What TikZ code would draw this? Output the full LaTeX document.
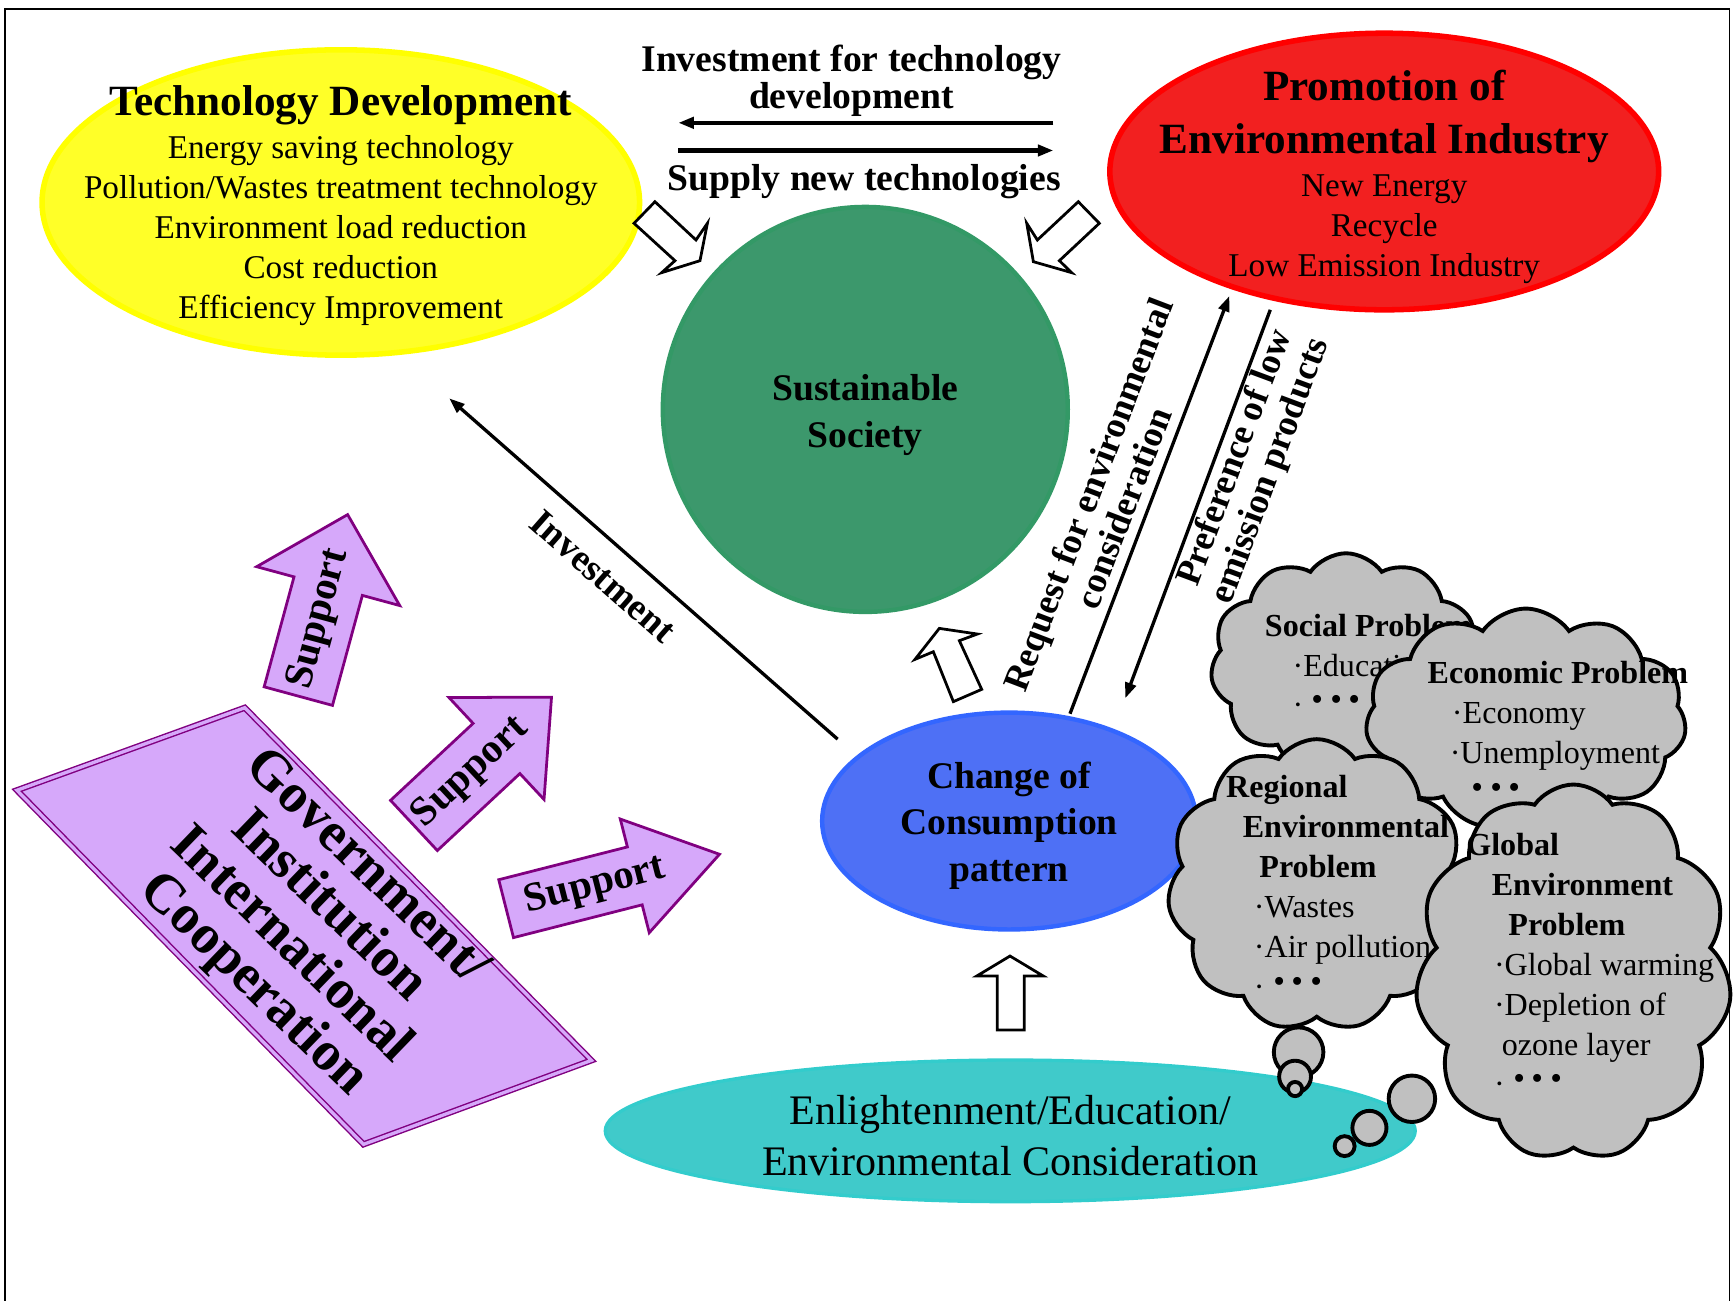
\documentclass[tikz,border=0pt]{standalone}
\usepackage{fontspec}
\setmainfont{Liberation Serif}
\usetikzlibrary{shapes.geometric,shapes.symbols,arrows.meta}
\definecolor{yelfill}{RGB}{255,255,40}
\definecolor{yelline}{RGB}{255,255,0}
\definecolor{redfill}{RGB}{242,32,32}
\definecolor{redline}{RGB}{255,0,0}
\definecolor{grnfill}{RGB}{60,152,108}
\definecolor{grnline}{RGB}{51,153,102}
\definecolor{blufill}{RGB}{78,112,245}
\definecolor{bluline}{RGB}{51,102,255}
\definecolor{cyafill}{RGB}{64,202,202}
\definecolor{cyaline}{RGB}{51,204,204}
\definecolor{purfill}{RGB}{214,168,250}
\definecolor{purline}{RGB}{128,0,128}
\definecolor{cloudgray}{RGB}{192,192,192}
\newcommand{\bigdot}{{\fontsize{44}{36}\selectfont\bfseries ·}}
\newcommand{\dotrow}{·\hspace{6pt}\bigdot\hspace{2pt}\bigdot\hspace{2pt}\bigdot}
\newcommand{\suparrow}[9]{%
  \begin{scope}[shift={(#2,#3)},rotate=#4]
    \draw[suparr] (0,-#7) -- (#5-#6,-#7) -- (#5-#6,-#8) -- (#5,0) -- (#5-#6,#8) -- (#5-#6,#7) -- (0,#7) -- cycle;
    \node[suptxt,rotate=#4] (#1) at (#9,0) {Support};
  \end{scope}}
\begin{document}
\begin{tikzpicture}[x=1pt,y=-1pt,
  blob/.style={ellipse,inner sep=0pt,line width=4pt},
  lbl/.style={font=\fontsize{34}{33}\selectfont\bfseries,inner sep=0pt,align=center},
  body/.style={font=\fontsize{30}{36}\selectfont,inner sep=0pt,align=center},
  flow/.style={line width=3pt,-{Triangle[length=14pt,width=10pt]}},
  openarr/.style={draw=black,fill=white,line width=2.5pt,line join=miter},
  suparr/.style={draw=purline,fill=purfill,line width=2.5pt,line join=miter},
  suptxt/.style={font=\fontsize{37}{37}\selectfont\bfseries,inner sep=0pt},
  cloudy/.style={cloud,cloud puffs=11,cloud puff arc=110,cloud ignores aspect,draw=black,fill=cloudgray,line width=3.5pt,inner sep=0pt},
  bubble/.style={draw=black,fill=cloudgray,line width=3.5pt},
  ctext/.style={font=\fontsize{29}{36}\selectfont,inner sep=0pt,align=left,anchor=west}
]
\useasboundingbox (0,0) rectangle (1568,1175);
\fill[white] (0,0) rectangle (1568,1175);

% main ellipses
\node[blob,fill=yelfill,draw=yelline,line width=5pt,minimum width=540pt,minimum height=276pt] (tech) at (308,183) {};
\node[blob,fill=redfill,draw=redline,line width=5pt,minimum width=496pt,minimum height=250pt] (prom) at (1251,155) {};
\node[circle,inner sep=0pt,fill=grnfill,draw=grnline,line width=4pt,minimum size=366pt] (sust) at (782,370) {};
\node[blob,fill=blufill,draw=bluline,minimum width=338pt,minimum height=196pt] (chg) at (912,742) {};
\node[blob,fill=cyafill,draw=cyaline,line width=3pt,minimum width=732pt,minimum height=128pt] (enl) at (913,1022) {};

% texts in ellipses
\node[font=\fontsize{39}{46}\selectfont\bfseries,inner sep=0pt] (techtitle) at (308,95) {Technology Development};
\node[body] (techbody) at (308,208.5) {Energy saving technology\\Pollution/Wastes treatment technology\\Environment load reduction\\Cost reduction\\Efficiency Improvement};
\node[font=\fontsize{39}{48}\selectfont\bfseries,inner sep=0pt,align=center] (promtitle) at (1251,105) {Promotion of\\Environmental Industry};
\node[body] (prombody) at (1251,207) {New Energy\\Recycle\\Low Emission Industry};
\node[font=\fontsize{34}{42}\selectfont\bfseries,inner sep=0pt,align=center] (susttxt) at (782,375) {Sustainable\\Society};
\node[font=\fontsize{34}{42}\selectfont\bfseries,inner sep=0pt,align=center] (chgtxt) at (912,746) {Change of\\Consumption\\pattern};
\node[font=\fontsize{38}{46}\selectfont,inner sep=0pt,align=center] (enltxt) at (913,1026) {Enlightenment/Education/\\Environmental Consideration};

% top arrows
\coordinate (ia) at (952,111);
\coordinate (ib) at (613,111);
\coordinate (sa) at (613,136);
\coordinate (sb) at (952,136);
\draw[flow,line width=4pt] (ia) -- (ib);
\draw[flow,line width=4pt] (sa) -- (sb);
\node[lbl] (invtop) at (769.5,73) {Investment for technology\\development};
\node[lbl] (suptop) at (781,164) {Supply new technologies};

% investment arrow
\coordinate (invS) at (757,668);
\coordinate (invT) at (406,360);
\draw[flow] (invS) -- (invT);
\node[lbl,rotate=-41.3] (invlbl) at (545,521) {Investment};

% request / preference
\coordinate (reqS) at (967,645);
\coordinate (reqT) at (1111,267.5);
\draw[flow] (reqS) -- (reqT);
\node[lbl,font=\fontsize{33}{34}\selectfont\bfseries,rotate=69.1] (reqlbl) at (999,453) {Request for environmental\\consideration};
\coordinate (prefS) at (1148,280);
\coordinate (prefT) at (1017,631);
\draw[flow] (prefS) -- (prefT);
\node[lbl,font=\fontsize{33}{34}\selectfont\bfseries,rotate=69.6] (preflbl) at (1133,420) {Preference of low\\emission products};

% open block arrows
\draw[openarr] (591.9,182.3) -- (573.0,201.8) -- (610.0,235.6) -- (598.0,246.4) -- (632.6,235.6) -- (639.3,201.8) -- (629.0,216.9) -- cycle;
\draw[openarr] (974.5,182.3) -- (993.5,201.8) -- (957.4,235.6) -- (968.5,246.4) -- (933.9,236.5) -- (927.9,201.8) -- (937.5,216.9) -- cycle;
\draw[openarr] (848.9,567.9) -- (883.3,573.0) -- (867.0,579.0) -- (887.2,623.0) -- (861.6,634.1) -- (843.5,589.0) -- (826.9,595.9) -- cycle;
\draw[openarr] (912.8,864.0) -- (942.9,882.1) -- (925.7,882.1) -- (925.7,930.9) -- (901.3,930.9) -- (901.3,882.1) -- (882.7,882.1) -- cycle;

% government parallelogram
\draw[draw=purline,line width=1.3pt,double=purfill,double distance=3pt,fill=purfill] (15.3,714.2) -- (221.2,639.6) -- (534.5,958.3) -- (328.5,1034.2) -- cycle;
\node[font=\fontsize{50}{49}\selectfont\bfseries,inner sep=0pt,align=center,rotate=-44] (gov) at (279,838) {Government/\\Institution\\International\\Cooperation};

% support arrows
\suparrow{sup1}{269.6}{629.1}{74.8}{170}{67}{32}{67}{72}
\suparrow{sup2}{374.1}{746}{43}{170}{68}{31}{63}{70}
\suparrow{sup3}{457.4}{821.2}{14.3}{199}{79}{27}{53}{83}

% clouds
\node[cloudy,minimum width=245pt,minimum height=200pt] (social) at (1216.5,600) {};
\node[ctext] (socialtxt) at (1143,601) {\textbf{Social Problem}\\\hspace*{25pt}·Education\\\hspace*{25pt}\dotrow};
\node[cloudy,minimum width=290pt,minimum height=200pt] (econ) at (1379,650) {};
\node[ctext] (econtxt) at (1290,662) {\textbf{Economic Problem}\\\hspace*{22pt}·Economy\\\hspace*{20pt}·Unemployment\\\hspace*{38pt}\bigdot\hspace{2pt}\bigdot\hspace{2pt}\bigdot};
\node[cloudy,minimum width=270pt,minimum height=264pt] (regional) at (1190,800) {};
\node[ctext] (regionaltxt) at (1108,801) {\textbf{Regional}\\\hspace*{15pt}\textbf{Environmental}\\\hspace*{30pt}\textbf{Problem}\\\hspace*{25pt}·Wastes\\\hspace*{25pt}·Air pollution\\\hspace*{25pt}\dotrow};
\draw[bubble] (1173.6,950.9) circle[radius=22.4pt];
\draw[bubble] (1170.4,973) circle[radius=14.4pt];
\draw[bubble] (1170.4,984.2) circle[radius=6.4pt];
\node[cloudy,minimum width=286pt,minimum height=340pt] (global) at (1422,879) {};
\node[ctext] (globaltxt) at (1325,871.5) {\textbf{Global}\\\hspace*{23pt}\textbf{Environment}\\\hspace*{38pt}\textbf{Problem}\\\hspace*{25pt}·Global warming\\\hspace*{25pt}·Depletion of\\\hspace*{32pt}ozone layer\\\hspace*{25pt}\dotrow};
\draw[bubble] (1276,993) circle[radius=21pt];
\draw[bubble] (1237.6,1019.3) circle[radius=15.4pt];
\draw[bubble] (1215.2,1035.8) circle[radius=9pt];

% frame
\draw[line width=1.5pt] (4.5,1180) -- (4.5,8) -- (1563,8) -- (1563,1180);
\end{tikzpicture}
\end{document}
